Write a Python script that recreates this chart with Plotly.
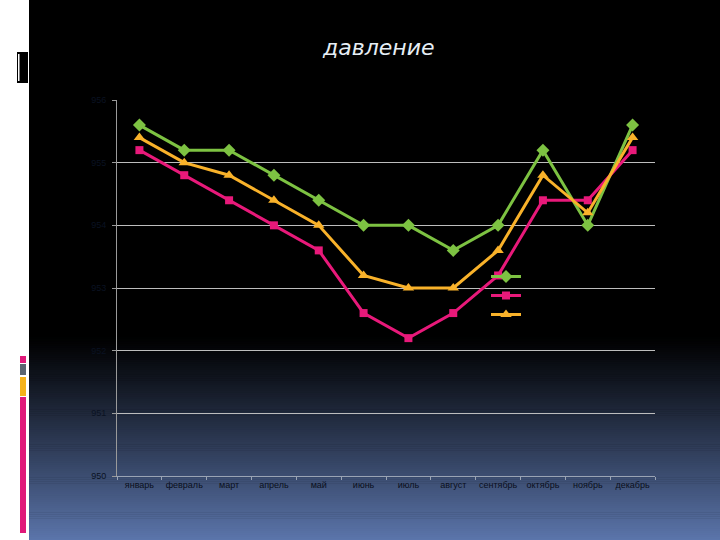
import plotly.graph_objects as go

months = ["январь", "февраль", "март", "апрель", "май", "июнь", "июль",
          "август", "сентябрь", "октябрь", "ноябрь", "декабрь"]
series1 = [955.6, 955.2, 955.2, 954.8, 954.4, 954.0, 954.0, 953.6, 954.0, 955.2, 954.0, 955.6]
series2 = [955.2, 954.8, 954.4, 954.0, 953.6, 952.6, 952.2, 952.6, 953.2, 954.4, 954.4, 955.2]
series3 = [955.4, 955.0, 954.8, 954.4, 954.0, 953.2, 953.0, 953.0, 953.6, 954.8, 954.2, 955.4]
names = ["Ряд1", "Ряд2", "Ряд3"]
title_text = "давление"

W, H = 720, 540
L, R, T, B = 117, 65, 100, 64
PW, PH = W - L - R, H - T - B

def px(x):
    return (x - L) / PW

def py(y):
    return (H - B - y) / PH

fig = go.Figure()
styles = [
    ("#7dc242", "diamond", 10),
    ("#e8197a", "square", 8),
    ("#f9b22a", "triangle-up", 10),
]
for vals, name, (col, sym, sz) in zip([series1, series2, series3], names, styles):
    fig.add_trace(go.Scatter(
        x=months, y=vals, name=name, mode="lines+markers",
        line=dict(color=col, width=3),
        marker=dict(color=col, symbol=sym, size=sz),
    ))

shapes = []
# black slide background
shapes.append(dict(type="rect", xref="paper", yref="paper", layer="below",
                   x0=px(29), x1=px(W + 5), y0=py(-5), y1=py(H + 5),
                   fillcolor="#000000", line=dict(width=0)))
# gradient strips to blue at bottom
y_start, y_end = 335, 541
n = 100
c1 = (92, 118, 172)
for i in range(n):
    ya = y_start + (y_end - y_start) * i / n
    yb = y_start + (y_end - y_start) * (i + 1) / n
    t = (i + 0.5) / n
    t = t ** 1.1
    col = "rgb(%d,%d,%d)" % tuple(int(c * t) for c in c1)
    shapes.append(dict(type="rect", xref="paper", yref="paper", layer="below",
                       x0=px(29), x1=px(W + 5), y0=py(yb + 0.5), y1=py(ya),
                       fillcolor=col, line=dict(width=0)))
# left decorations
deco = [
    (17, 28, 52, 83, "#000000"),
    (18, 19.5, 54, 81, "#ffffff"),
    (20, 26, 356, 363, "#e0197a"),
    (20, 26, 364, 375, "#5a6470"),
    (20, 26, 377, 396, "#f5b21a"),
    (20, 26, 397, 533, "#e0197a"),
]
for x0, x1, y0, y1, c in deco:
    shapes.append(dict(type="rect", xref="paper", yref="paper", layer="below",
                       x0=px(x0), x1=px(x1), y0=py(y1), y1=py(y0),
                       fillcolor=c, line=dict(width=0)))

fig.update_layout(
    width=W, height=H, autosize=False,
    margin=dict(l=L, r=R, t=T, b=B, pad=0),
    paper_bgcolor="#ffffff",
    plot_bgcolor="rgba(0,0,0,0)",
    shapes=shapes,
    showlegend=True,
    legend=dict(x=px(486), y=py(262), xanchor="left", yanchor="top",
                bgcolor="rgba(0,0,0,0)", font=dict(size=8, color="#000000"),
                itemwidth=30, tracegroupgap=0),
    annotations=[dict(text=title_text, xref="paper", yref="paper",
                      x=px(378), y=py(47), xanchor="center", yanchor="middle",
                      showarrow=False,
                      font=dict(family="DejaVu Sans", size=22, color="#e6eef5", style="italic"))],
    font=dict(family="Liberation Sans"),
)
fig.update_xaxes(
    type="category", range=[-0.5, len(months) - 0.5], showgrid=False, showline=True,
    linecolor="#9aa4b4", linewidth=1,
    ticks="outside", ticklen=3, tickcolor="#9aa4b4", tickson="boundaries",
    tickangle=0, tickfont=dict(size=9, color="#0a0f1c"), zeroline=False, mirror=False,
)
fig.update_yaxes(
    range=[950, 956], dtick=1, showgrid=True, gridcolor="#bdbdbd", gridwidth=1,
    showline=True, linecolor="#9a9a9a", linewidth=1, ticks="outside", ticklen=4,
    ticklabelstandoff=4,
    tickcolor="#9a9a9a", tickfont=dict(size=9, color="#0a1222"), zeroline=False,
)
fig.write_html("out.html", config={"displayModeBar": False},
               post_script="document.body.style.margin='0';")
